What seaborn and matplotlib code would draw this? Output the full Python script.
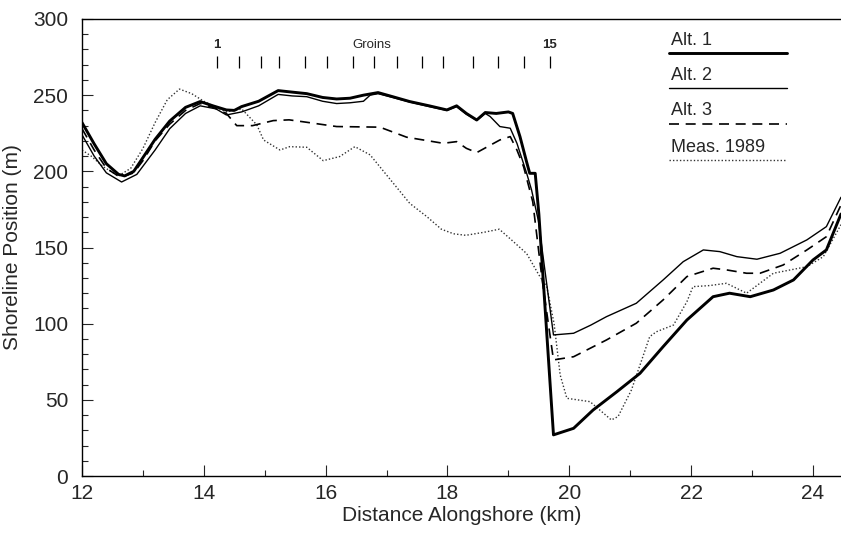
import numpy as np
import pandas as pd
import matplotlib
matplotlib.use("Agg")
import matplotlib.pyplot as plt
import seaborn as sns

# ---- data ----
alt1_x = [12.0, 12.2, 12.4, 12.6, 12.7, 12.85, 13.0, 13.2, 13.44, 13.7, 13.94, 14.15, 14.37, 14.5, 14.62,
          14.9, 15.22, 15.45, 15.69, 15.95, 16.18, 16.4, 16.62, 16.86, 17.1, 17.38, 17.7, 17.99, 18.15, 18.31,
          18.48, 18.62, 18.8, 19.0, 19.07, 19.19, 19.3, 19.35, 19.44, 19.5, 19.74, 20.07, 20.39, 20.78, 21.16,
          21.54, 21.93, 22.36, 22.63, 22.97, 23.35, 23.68, 24.0, 24.22, 24.46]
alt1_y = [232, 218, 205, 198, 197, 200, 209, 221, 233, 242, 245.8, 243, 240.3, 240, 242.5,
          246, 253, 252, 251, 248.5, 247.5, 248, 250, 251.7, 249, 245.8, 243, 240.3, 243, 238,
          233.7, 238.6, 238, 239, 238, 222.8, 206, 198.7, 198.7, 172, 27, 31.3, 43.3, 55.3, 67.4,
          84.9, 102.4, 117.7, 120, 117.7, 122.1, 128.7, 141.8, 148.4, 172]

alt2_x = [12.0, 12.2, 12.4, 12.65, 12.9, 13.2, 13.44, 13.7, 13.94, 14.2, 14.37, 14.62, 14.9, 15.22, 15.45,
          15.69, 15.95, 16.18, 16.4, 16.62, 16.73, 16.86, 17.1, 17.38, 17.7, 17.99, 18.15, 18.31, 18.48, 18.62,
          18.7, 18.86, 19.03, 19.14, 19.3, 19.38, 19.49, 19.74, 20.07, 20.35, 20.61, 21.1, 21.54, 21.87, 22.2,
          22.47, 22.75, 23.08, 23.46, 23.9, 24.22, 24.46]
alt2_y = [224, 210, 199, 193, 198, 214, 228, 238, 243, 241, 237, 239, 243, 250.5, 249.5,
          249, 246, 244.5, 245, 246, 250, 251, 248.5, 245.5, 242.5, 240, 242.5, 237.5, 233.5, 238,
          236, 229.4, 228.3, 218.4, 198.7, 187.8, 168, 92.6, 93.7, 99, 104.6, 113.4, 128.7, 140.7, 148.4,
          147.3, 144, 142.3, 146.2, 155, 163.7, 183]

alt3_x = [12.0, 12.2, 12.4, 12.63, 12.85, 13.0, 13.2, 13.44, 13.7, 13.94, 14.15, 14.37, 14.54, 14.8, 15.14,
          15.4, 15.69, 16.18, 16.89, 17.33, 17.93, 18.15, 18.31, 18.48, 18.86, 19.03, 19.14, 19.25, 19.4,
          19.55, 19.74, 20.07, 20.61, 21.1, 21.54, 21.93, 22.36, 22.58, 22.91, 23.13, 23.51, 23.9, 24.22, 24.46]
alt3_y = [228, 214, 202, 196, 199, 207, 220, 231, 240, 244.5, 242, 238, 230, 230, 233.3,
          233.8, 232.2, 229.4, 229, 222.4, 218.4, 219.5, 215.1, 212.3, 220.6, 222.8, 214, 203, 180,
          130, 76.2, 78.3, 89.3, 100.3, 115.6, 130.9, 136.4, 135.3, 133.1, 133.1, 138.5, 148.4, 157.1, 178]

meas_x = [12.0, 12.15, 12.35, 12.6, 12.8, 13.0, 13.2, 13.4, 13.6, 13.8, 14.0, 14.2, 14.37, 14.62, 14.87,
          14.98, 15.25, 15.41, 15.69, 15.96, 16.23, 16.48, 16.73, 17.0, 17.38, 17.66, 17.9, 18.1, 18.3, 18.6,
          18.85, 19.05, 19.3, 19.5, 19.63, 19.75, 19.85, 19.96, 20.34, 20.69, 20.8, 21.02, 21.32, 21.43,
          21.71, 21.93, 22.03, 22.3, 22.58, 22.91, 23.35, 23.9, 24.17, 24.46]
meas_y = [214, 210, 203, 197, 202, 215, 232, 247, 254, 251, 246, 242, 239, 241, 230.5,
          220.6, 214, 216.2, 215.8, 207, 209.7, 216.2, 210.8, 197.6, 179, 170.3, 162, 159, 158, 160,
          162, 155, 146, 132, 124.3, 100, 66.3, 51, 48.8, 36.8, 39, 56.5, 91.5, 94.7,
          99.1, 114.4, 124.3, 125, 126.5, 120, 133.1, 137.4, 144, 165]

groin_x = [14.21, 14.58, 14.94, 15.24, 15.66, 16.02, 16.45, 16.8, 17.17, 17.58, 17.93, 18.42, 18.83, 19.26, 19.68]

series_labels = ["Alt. 1", "Alt. 2", "Alt. 3", "Meas. 1989"]

# ---- style ----
sns.set_style("ticks")
plt.rcParams['font.family'] = ['Liberation Sans', 'DejaVu Sans']

styles = {
    "Alt. 1": dict(color="black", lw=2.1, ls="-"),
    "Alt. 2": dict(color="black", lw=1.0, ls="-"),
    "Alt. 3": dict(color="black", lw=1.2, ls=(0, (6, 4))),
    "Meas. 1989": dict(color="#333333", lw=1.0, ls=(0, (1, 1.5))),
}

fig = plt.figure(figsize=(8.41, 5.34), dpi=100)
ax = fig.add_axes([82 / 841, 1 - 476 / 534, 1 - 82 / 841, (476 - 19) / 534])

data = {
    "Alt. 1": (alt1_x, alt1_y),
    "Alt. 2": (alt2_x, alt2_y),
    "Alt. 3": (alt3_x, alt3_y),
    "Meas. 1989": (meas_x, meas_y),
}

for lab in ["Meas. 1989", "Alt. 3", "Alt. 2", "Alt. 1"]:
    xs, ys = data[lab]
    df = pd.DataFrame({"x": xs, "y": ys})
    st = styles[lab]
    sns.lineplot(data=df, x="x", y="y", ax=ax, sort=False, color=st["color"],
                 linewidth=st["lw"], linestyle=st["ls"], legend=False)

ax.set_xlim(12, 24.46)
ax.set_ylim(0, 300)
ax.set_xticks(np.arange(12, 25, 2))
ax.set_xticks(np.arange(12, 25, 1), minor=True)
ax.set_yticks(np.arange(0, 301, 50))
ax.set_yticks(np.arange(0, 301, 10), minor=True)
ax.tick_params(which="both", direction="in", top=False, right=False, width=0.8, labelsize=15)
ax.tick_params(which="major", length=8)
ax.tick_params(which="minor", length=4)
ax.tick_params(axis="y", pad=10)
ax.tick_params(axis="x", pad=6)
for s in ["left", "bottom", "top"]:
    ax.spines[s].set_linewidth(1.0)
    ax.spines[s].set_color("black")
ax.spines["right"].set_visible(False)

ax.set_xlabel("Distance Alongshore (km)", fontsize=15, labelpad=2)
ax.set_ylabel("Shoreline Position (m)", fontsize=15, labelpad=8)

# groins
ax.vlines(groin_x, 268, 276, color="black", lw=0.9)
ax.text(groin_x[0], 279, "1", ha="center", va="bottom", fontsize=9.5, fontweight="bold")
ax.text(groin_x[-1], 279, "15", ha="center", va="bottom", fontsize=9.5, fontweight="bold")
ax.text(16.76, 279, "Groins", ha="center", va="bottom", fontsize=9.5)

# custom legend
text_y = [0.943, 0.867, 0.790, 0.709]
line_y = [0.926, 0.850, 0.770, 0.691]
for lab, ty, ly in zip(series_labels, text_y, line_y):
    st = styles[lab]
    ax.text(0.776, ty, lab, transform=ax.transAxes, fontsize=13, ha="left", va="baseline")
    ax.plot([0.774, 0.929], [ly, ly], transform=ax.transAxes, color=st["color"],
            lw=st["lw"], ls=st["ls"], clip_on=False)

fig.savefig("out.png", dpi=100)
